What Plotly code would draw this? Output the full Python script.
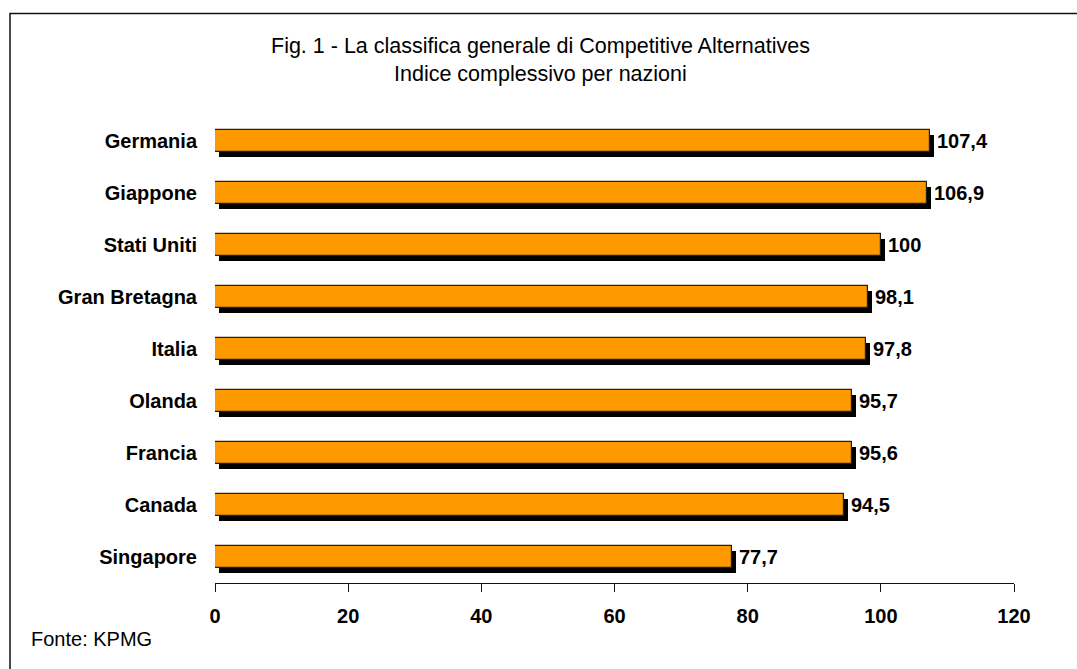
import plotly.graph_objects as go

# Overall competitiveness index by country (KPMG, Competitive Alternatives)
countries = ["Germania", "Giappone", "Stati Uniti", "Gran Bretagna", "Italia",
             "Olanda", "Francia", "Canada", "Singapore"]
values = [107.4, 106.9, 100.0, 98.1, 97.8, 95.7, 95.6, 94.5, 77.7]
x_ticks = [0, 20, 40, 60, 80, 100, 120]

W, H = 1077, 669
L, R, T, B = 215, 63, 115, 86
plot_w = W - L - R
plot_h = H - T - B
x_max = 120
n = len(countries)
FONT = "Liberation Sans, Arial"

# pixel-to-data conversions for the drop shadow offset
ux = x_max / plot_w
uy = n / plot_h
shadow_dx = 4 * ux
shadow_dy = 5 * uy
bar_w = 22 * uy

pos = list(range(n))


def fmt(v):
    s = f"{v:.1f}".replace(".", ",")
    return s[:-2] if s.endswith(",0") else s


fig = go.Figure()
# black drop shadow
fig.add_trace(go.Bar(
    x=values, y=[p + shadow_dy for p in pos], base=[shadow_dx] * n,
    orientation="h", width=bar_w, marker=dict(color="black", line=dict(width=0)),
    hoverinfo="skip", showlegend=False,
))
# orange bars
fig.add_trace(go.Bar(
    x=values, y=pos, orientation="h", width=bar_w,
    marker=dict(color="#FF9900", line=dict(color="#222222", width=1.2)),
    showlegend=False,
))

for p, v in zip(pos, values):
    fig.add_annotation(
        x=v + shadow_dx, y=p, text=f"<b>{fmt(v)}</b>", showarrow=False,
        xanchor="left", yanchor="middle", xshift=1,
        font=dict(family=FONT, size=20, color="black"),
    )

# title lines
fig.add_annotation(
    xref="paper", yref="paper", x=(540 - L) / plot_w, y=(H - B - 46) / plot_h,
    text="Fig. 1 - La classifica generale di Competitive Alternatives",
    showarrow=False, xanchor="center", yanchor="middle",
    font=dict(family=FONT, size=21.5, color="black"),
)
fig.add_annotation(
    xref="paper", yref="paper", x=(540 - L) / plot_w, y=(H - B - 74) / plot_h,
    text="Indice complessivo per nazioni",
    showarrow=False, xanchor="center", yanchor="middle",
    font=dict(family=FONT, size=21.5, color="black"),
)
# source note
fig.add_annotation(
    xref="paper", yref="paper", x=(29 - L) / plot_w, y=(H - B - 639) / plot_h,
    text="Fonte: KPMG", showarrow=False, xanchor="left", yanchor="middle",
    font=dict(family=FONT, size=20, color="black"),
)

# outer frame
fig.add_shape(
    type="rect", xref="paper", yref="paper",
    x0=(10 - L) / plot_w, x1=(1100 - L) / plot_w,
    y0=(H - B - 700) / plot_h, y1=(H - B - 13.5) / plot_h,
    line=dict(color="#111111", width=1.5), fillcolor="rgba(0,0,0,0)", layer="below",
)

fig.update_layout(
    width=W, height=H,
    margin=dict(l=L, r=R, t=T, b=B, pad=0),
    paper_bgcolor="white", plot_bgcolor="white",
    barmode="overlay", bargap=0,
    xaxis=dict(
        range=[0, x_max], tickvals=x_ticks, ticktext=[f"<b>{t}</b>" for t in x_ticks],
        showgrid=False, zeroline=False, showline=True, linecolor="#111111", linewidth=1.2,
        ticks="outside", ticklen=8, tickcolor="#111111", tickwidth=1.2,
        ticklabelstandoff=7,
        tickfont=dict(family=FONT, size=20, color="black"),
        fixedrange=True,
    ),
    yaxis=dict(
        range=[n - 0.5, -0.5], tickvals=pos, ticktext=[f"<b>{c}</b>" for c in countries],
        showgrid=False, zeroline=False, showline=False, ticks="", ticklabelstandoff=17,
        tickfont=dict(family=FONT, size=20, color="black"),
        fixedrange=True,
    ),
)

fig.write_html("out.html")
